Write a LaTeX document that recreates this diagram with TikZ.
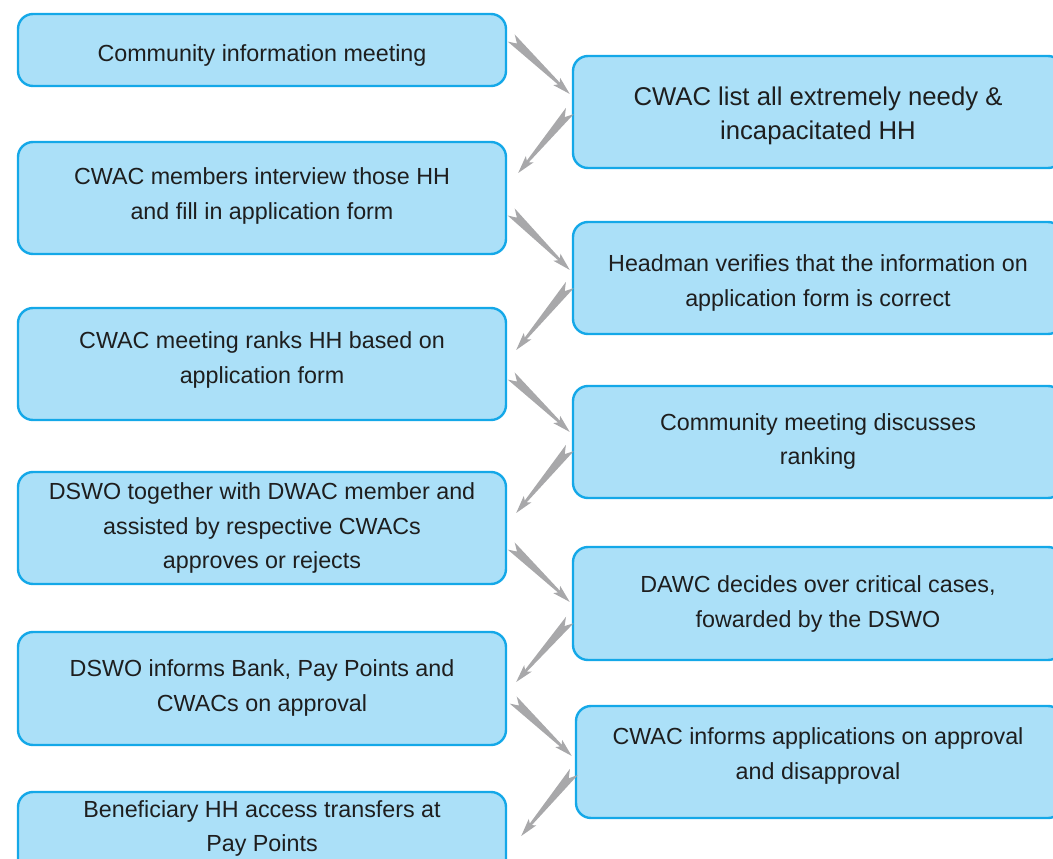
\documentclass[tikz,border=0pt]{standalone}
\usepackage{fontspec}
\setmainfont{Liberation Sans}
\usetikzlibrary{calc}
\definecolor{boxfill}{HTML}{ABE0F8}
\definecolor{boxline}{HTML}{14A8E8}
\definecolor{boltcol}{HTML}{A8A8AA}
\definecolor{txtcol}{HTML}{1E1E1E}
\newcommand\bolt[2]{%
  \path let \p1=(#1), \p2=(#2), \n1={atan2(\y2-\y1,\x2-\x1)}, \n2={veclen(\x2-\x1,\y2-\y1)} in
    \pgfextra{\xdef\boltang{\n1}\xdef\boltlen{\n2}};
  \begin{scope}[shift={(#1)}, rotate=\boltang]
    \fill[boltcol] (0pt,5pt) -- (8pt,0pt) -- (0pt,-5pt) -- (\boltlen-15pt,-1.3pt)
      -- (\boltlen-18pt,-5pt) -- (\boltlen,0pt) -- (\boltlen-18pt,5pt)
      -- (\boltlen-15pt,1.3pt) -- cycle;
  \end{scope}}
\tikzset{
  box/.style={draw=boxline, fill=boxfill, line width=2.4pt, rounded corners=15pt, inner sep=0pt},
  lbox/.style={box, minimum width=488pt},
  rbox/.style={box, minimum width=490pt},
  txt/.style={text=txtcol, align=center, inner sep=0pt, font=\fontsize{23.3}{34.5}\selectfont},
  bigtxt/.style={txt, font=\fontsize{25.7}{34.5}\selectfont},
}
\begin{document}
\begin{tikzpicture}[x=1pt,y=-1pt]
\useasboundingbox (0,0) rectangle (1053,859);
% left boxes
\node[lbox, minimum height=72pt] (bL1) at (262,50) {};
\node[lbox, minimum height=112pt] (bL2) at (262,198) {};
\node[lbox, minimum height=112pt] (bL3) at (262,364) {};
\node[lbox, minimum height=112pt] (bL4) at (262,528) {};
\node[lbox, minimum height=113pt] (bL5) at (262,688.5) {};
\node[lbox, minimum height=108pt] (bL6) at (262,846) {};
% right boxes
\node[rbox, minimum height=112pt] (bR1) at (818,112) {};
\node[rbox, minimum height=112pt] (bR2) at (818,278) {};
\node[rbox, minimum height=112pt] (bR3) at (818,442) {};
\node[rbox, minimum height=113pt] (bR4) at (818,603.5) {};
\node[box, minimum width=487pt, minimum height=112pt] (bR5) at (819.5,762) {};
% texts
\node[txt] (tL1) at (262,55) {Community information meeting};
\node[txt] (tL2) at (262,196) {CWAC members interview those HH\\and fill in application form};
\node[txt] (tL3) at (262,360) {CWAC meeting ranks HH based on\\application form};
\node[txt] (tL4) at (262,528) {DSWO together with DWAC member and\\assisted by respective CWACs\\approves or rejects};
\node[txt] (tL5) at (262,688) {DSWO informs Bank, Pay Points and\\CWACs on approval};
\node[txt] (tL6) at (262,828.5) {Beneficiary HH access transfers at\\Pay Points};
\node[bigtxt] (tR1) at (818,116) {CWAC list all extremely needy \&\\incapacitated HH};
\node[txt] (tR2) at (818,283) {Headman verifies that the information on\\application form is correct};
\node[txt] (tR3) at (818,441.5) {Community meeting discusses\\ranking};
\node[txt] (tR4) at (818,604) {DAWC decides over critical cases,\\fowarded by the DSWO};
\node[txt] (tR5) at (818,756) {CWAC informs applications on approval\\and disapproval};
% connector end points
\coordinate (a1s) at ([shift={(4,-12)}]bL1.east);
\coordinate (a1e) at ([shift={(-2,-18)}]bR1.west);
\coordinate (a2s) at ([shift={(-2,-1)}]bR1.west);
\coordinate (a2e) at ([shift={(11,-25)}]bL2.east);
\coordinate (a3s) at ([shift={(4,14)}]bL2.east);
\coordinate (a3e) at ([shift={(-2,-8)}]bR2.west);
\coordinate (a4s) at ([shift={(-2,7)}]bR2.west);
\coordinate (a4e) at ([shift={(9,-14)}]bL3.east);
\coordinate (a5s) at ([shift={(4,12)}]bL3.east);
\coordinate (a5e) at ([shift={(-2,-10)}]bR3.west);
\coordinate (a6s) at ([shift={(-2,6)}]bR3.west);
\coordinate (a6e) at ([shift={(9,-15)}]bL4.east);
\coordinate (a7s) at ([shift={(4,18)}]bL4.east);
\coordinate (a7e) at ([shift={(-2,-1.5)}]bR4.west);
\coordinate (a8s) at ([shift={(-2,16.5)}]bR4.west);
\coordinate (a8e) at ([shift={(9,-6.5)}]bL5.east);
\coordinate (a9s) at ([shift={(6,11.5)}]bL5.east);
\coordinate (a9e) at ([shift={(-3,-6)}]bR5.west);
\coordinate (a10s) at ([shift={(-1,10)}]bR5.west);
\coordinate (a10e) at ([shift={(14,-10)}]bL6.east);
\bolt{a1s}{a1e}
\bolt{a2s}{a2e}
\bolt{a3s}{a3e}
\bolt{a4s}{a4e}
\bolt{a5s}{a5e}
\bolt{a6s}{a6e}
\bolt{a7s}{a7e}
\bolt{a8s}{a8e}
\bolt{a9s}{a9e}
\bolt{a10s}{a10e}
\end{tikzpicture}
\end{document}
